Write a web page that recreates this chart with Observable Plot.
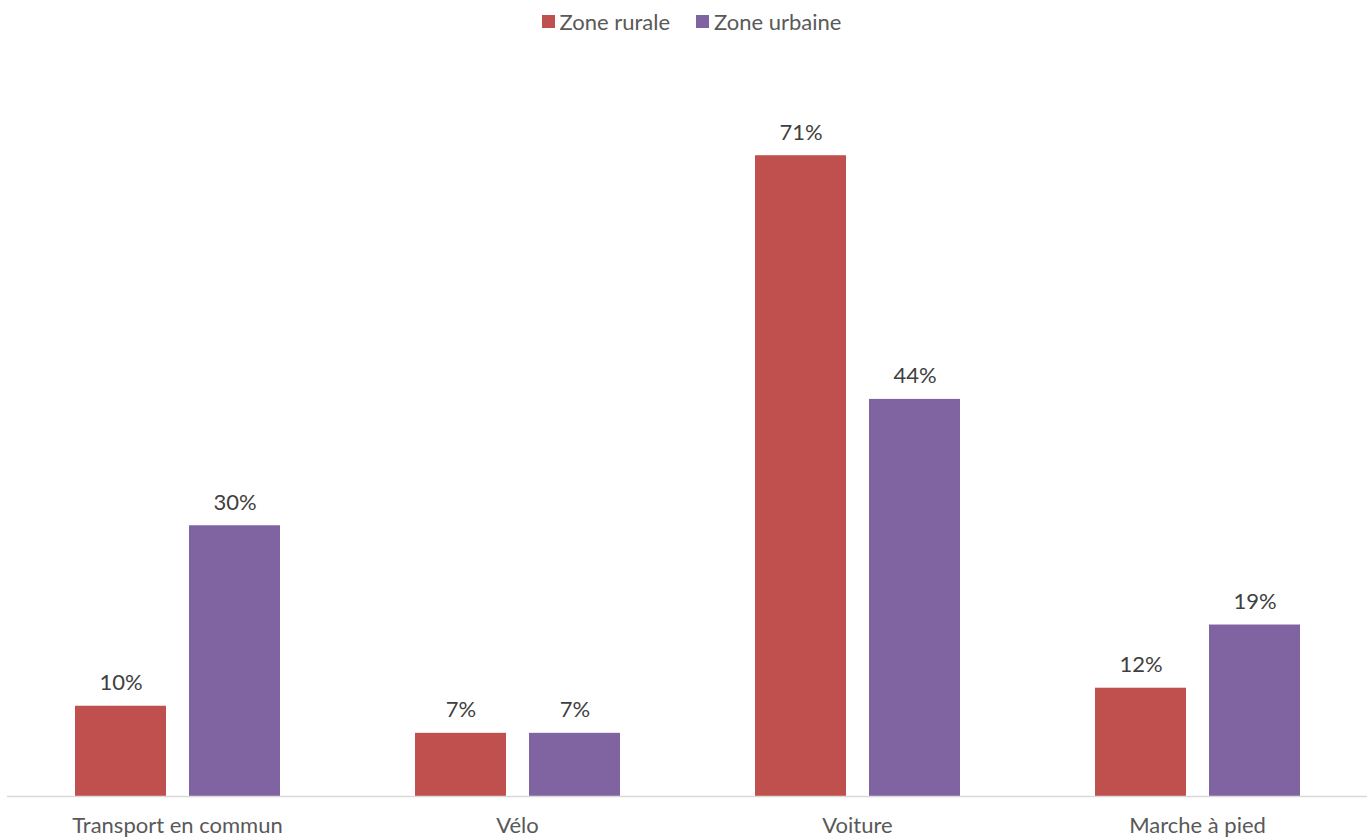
<!DOCTYPE html>
<html>
<head>
<meta charset="utf-8">
<script src="https://cdn.jsdelivr.net/npm/d3@7"></script>
<script src="https://cdn.jsdelivr.net/npm/@observablehq/plot@0.6"></script>
<style>
  html, body { margin: 0; padding: 0; background: #fff; }
  body { width: 1369px; height: 839px; overflow: hidden; font-family: Lato, "Open Sans", sans-serif; color: #595959; }
  #legend { height: 42px; display: flex; justify-content: center; align-items: center; font-size: 22px; padding-left: 14px; box-sizing: border-box; }
  .item { display: flex; align-items: center; margin: 0 13px; }
  .sw { width: 13px; height: 13px; margin-right: 5px; display: inline-block; }
</style>
</head>
<body>
<div id="legend"></div>
<div id="chart"></div>
<script>
const categories = ["Transport en commun", "Vélo", "Voiture", "Marche à pied"];
const zones = ["Zone rurale", "Zone urbaine"];
const rural = [10, 7, 71, 12];
const urban = [30, 7, 44, 19];
const colors = ["#C0504D", "#8064A2"];

const data = [];
categories.forEach((c, i) => {
  data.push({category: c, zone: zones[0], value: rural[i]});
  data.push({category: c, zone: zones[1], value: urban[i]});
});

const legend = document.getElementById("legend");
zones.forEach((z, i) => {
  const it = document.createElement("span");
  it.className = "item";
  it.innerHTML = `<span class="sw" style="background:${colors[i]}"></span><span>${z}</span>`;
  legend.appendChild(it);
});

const chart = Plot.plot({
  width: 1369,
  height: 797,
  marginTop: 32,
  marginBottom: 43,
  marginLeft: 7,
  marginRight: 2,
  style: { fontFamily: "Lato, 'Open Sans', sans-serif", fontSize: "22px", color: "#595959", background: "#fff" },
  fx: { domain: categories, padding: 0, label: null, axis: "bottom", tickSize: 0, tickPadding: 21 },
  x: { domain: zones, paddingInner: 0.2018, paddingOuter: 0.592, axis: null },
  y: { domain: [0, 80], axis: null },
  color: { domain: zones, range: colors },
  marks: [
    Plot.barY(data, { fx: "category", x: "zone", y: "value", fill: "zone" }),
    Plot.ruleY([0], { stroke: "#D9D9D9", strokeWidth: 1.5 }),
    Plot.text(data, { fx: "category", x: "zone", y: "value", text: d => d.value + "%", lineAnchor: "bottom", dy: -16, fill: "#404040", fontSize: 22 })
  ]
});
document.getElementById("chart").appendChild(chart);
</script>
</body>
</html>
